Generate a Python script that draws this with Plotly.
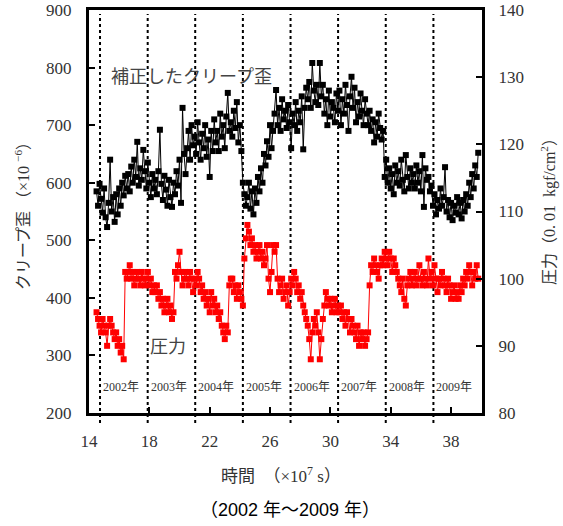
import plotly.graph_objects as go

# ---- data ----
T_START = 14.5      # first sample time (x10^7 s)
T_STEP = 0.1        # sampling interval (x10^7 s)

creep_strain = [  # corrected creep strain (x10^-6), left axis
    585, 560, 598, 572, 548, 590, 540, 523, 565, 640,
    550, 575, 532, 580, 545, 590, 560, 600, 578, 612,
    590, 615, 585, 628, 600, 640, 610, 671, 595, 625,
    605, 657, 620, 590, 635, 600, 575, 615, 590, 605,
    580, 620, 692, 598, 570, 612, 588, 560, 605, 575,
    558, 600, 580, 620, 595, 640, 565, 730, 650, 615,
    660, 690, 640, 700, 665, 680, 650, 705, 670, 640,
    685, 660, 700, 645, 675, 610, 690, 655, 710, 670,
    690, 655, 720, 680, 700, 660, 715, 756, 690, 705,
    680, 725, 695, 740, 670, 700, 655, 600, 580, 560,
    575, 600, 555, 585, 545, 590, 565, 610, 585, 625,
    600, 650, 630, 672, 645, 700, 660, 690, 720, 761,
    700, 730, 690, 745, 710, 725, 695, 735, 705, 660,
    720, 700, 740, 690, 725, 705, 750, 658, 730, 765,
    745, 775, 730, 808, 760, 740, 770, 735, 808, 750,
    770, 720, 745, 700, 760, 715, 740, 730, 705, 755,
    725, 760, 700, 745, 720, 770, 735, 690, 750, 784,
    730, 765, 705, 740, 715, 755, 725, 700, 745, 720,
    700, 725, 690, 710, 670, 705, 680, 720, 695, 675,
    690, 610, 640, 600, 625, 590, 615, 580, 630, 600,
    620, 595, 640, 605, 585, 648, 610, 590, 625, 600,
    615, 590, 630, 600, 620, 585, 648, 558, 625, 605,
    610, 585, 595, 560, 580, 545, 570, 555, 590, 560,
    575, 627, 550, 570, 540, 565, 535, 560, 548, 575,
    545, 565, 538, 570, 550, 580, 560, 600, 575, 615,
    590, 630, 610, 652,
]

pressure = [  # pressure (0.01 kgf/cm^2), right axis
    95, 94, 93, 92, 94, 93, 92, 90, 93, 94,
    93, 92, 91, 92, 90, 91, 89, 90, 88, 101,
    100, 101, 102, 100, 101, 99, 100, 101, 100, 99,
    101, 100, 99, 100, 101, 99, 100, 98, 99, 98,
    99, 97, 98, 96, 97, 95, 96, 97, 95, 96,
    94, 95, 101, 100, 102, 104, 101, 99, 100, 101,
    100, 99, 101, 100, 98, 100, 99, 101, 100, 98,
    99, 97, 98, 96, 97, 95, 98, 96, 97, 95,
    96, 94, 95, 93, 92, 91, 93, 92, 99, 100,
    100, 98, 99, 97, 99, 98, 97, 96, 103, 106,
    108, 107, 105, 106, 104, 105, 103, 104, 105, 103,
    104, 102, 103, 105, 100, 98, 101, 105, 104, 105,
    100, 98, 99, 100, 97, 98, 99, 96, 98, 100,
    99, 101, 100, 98, 99, 97, 98, 96, 95, 94,
    93, 91, 88, 92, 94, 93, 95, 92, 88, 91,
    94, 96, 98, 97, 96, 97, 95, 96, 97, 95,
    96, 95, 96, 94, 95, 93, 95, 94, 92, 94,
    93, 92, 91, 93, 90, 92, 91, 92, 90, 91,
    92, 99, 102, 101, 103, 102, 101, 100, 102, 103,
    102, 104, 103, 102, 104, 103, 101, 103, 102, 101,
    100, 99, 98, 100, 97, 96, 99, 100, 101, 99,
    100, 101, 99, 100, 102, 100, 99, 101, 100, 99,
    103, 100, 101, 99, 102, 100, 98, 100, 99, 101,
    100, 99, 98, 100, 99, 97, 98, 99, 97, 98,
    97, 99, 98, 100, 99, 101, 100, 102, 101, 99,
    101, 100, 102, 100,
]

year_starts = [14.73, 17.89, 21.04, 24.2, 27.36, 30.51, 33.67, 36.83]
year_labels = ["2002年", "2003年", "2004年", "2005年", "2006年", "2007年", "2008年", "2009年"]

x_ticks = [14, 18, 22, 26, 30, 34, 38]
left_ticks = [200, 300, 400, 500, 600, 700, 800, 900]
right_ticks = [80, 90, 100, 110, 120, 130, 140]

time = [round(T_START + i * T_STEP, 3) for i in range(len(creep_strain))]

SERIF = "Liberation Serif"
CJK = "Noto Sans CJK JP"
TXT = "#333333"

# plot-area geometry in pixels (for placing free text)
PL, PR, PT, PB, W, H = 89, 482, 10, 413, 563, 526


def px(xp):
    return (xp - PL) / (PR - PL)


def py(yp):
    return (PB - yp) / (PB - PT)


fig = go.Figure()
fig.add_trace(go.Scatter(
    x=time, y=creep_strain, mode="lines+markers", yaxis="y",
    line=dict(color="black", width=1),
    marker=dict(symbol="square", size=6, color="black"),
    showlegend=False, hoverinfo="skip"))
fig.add_trace(go.Scatter(
    x=time, y=pressure, mode="lines+markers", yaxis="y2",
    line=dict(color="#ff0000", width=1),
    marker=dict(symbol="square", size=6, color="#ff0000"),
    showlegend=False, hoverinfo="skip"))

for xs in year_starts:
    fig.add_shape(type="line", xref="x", yref="paper", x0=xs, x1=xs, y0=-0.025, y1=0.99,
                  line=dict(color="black", width=2, dash="dot"), layer="below")

for xs, lab in zip(year_starts, year_labels):
    fig.add_annotation(x=xs, y=245, xref="x", yref="y", text=lab, showarrow=False,
                       xanchor="left", yanchor="middle", xshift=1,
                       font=dict(family=SERIF + ", " + CJK, size=12, color=TXT))

fig.add_annotation(x=px(191), y=py(75), xref="paper", yref="paper",
                   text="補正したクリープ歪", showarrow=False, xanchor="center", yanchor="middle",
                   font=dict(family=CJK, size=18, color="#444444"))
fig.add_annotation(x=px(168), y=py(345), xref="paper", yref="paper",
                   text="圧力", showarrow=False, xanchor="center", yanchor="middle",
                   font=dict(family=CJK, size=18, color="#444444"))

# axis titles
fig.add_annotation(x=px(22), y=py(212), xref="paper", yref="paper",
                   text="クリープ歪 （×10 <sup>−6</sup>）", textangle=-90, showarrow=False,
                   xanchor="center", yanchor="middle",
                   font=dict(family=SERIF + ", " + CJK, size=16, color=TXT))
fig.add_annotation(x=px(548), y=py(208), xref="paper", yref="paper",
                   text="圧力（0. 01  kgf/cm<sup>2</sup>）", textangle=-90, showarrow=False,
                   xanchor="center", yanchor="middle",
                   font=dict(family=SERIF + ", " + CJK, size=16, color=TXT))
fig.add_annotation(x=px(281), y=py(475), xref="paper", yref="paper",
                   text="時間　（×10<sup>7</sup> s）", showarrow=False,
                   xanchor="center", yanchor="middle",
                   font=dict(family=SERIF + ", " + CJK, size=17, color=TXT))
fig.add_annotation(x=px(290), y=py(510), xref="paper", yref="paper",
                   text="（2002 年～2009 年）", showarrow=False,
                   xanchor="center", yanchor="middle",
                   font=dict(family="Liberation Sans, " + CJK, size=18, color="black"))

axis_common = dict(showgrid=False, zeroline=False, showline=True, linecolor="black",
                   linewidth=3, ticks="inside", ticklen=6, tickwidth=2, tickcolor="black",
                   tickfont=dict(family=SERIF, size=17, color=TXT))

fig.update_layout(
    width=W, height=H,
    margin=dict(l=PL, r=W - PR, t=PT, b=H - PB, autoexpand=False),
    paper_bgcolor="white", plot_bgcolor="white",
    xaxis=dict(range=[14, 40.05], tickvals=x_ticks, mirror=True, ticklabelstandoff=11,
               **axis_common),
    yaxis=dict(range=[200, 900], tickvals=left_ticks, ticklabelstandoff=11, **axis_common),
    yaxis2=dict(range=[80, 140], tickvals=right_ticks, overlaying="y", side="right",
                ticklabelstandoff=10, **axis_common),
)

fig.write_html("out.html")
